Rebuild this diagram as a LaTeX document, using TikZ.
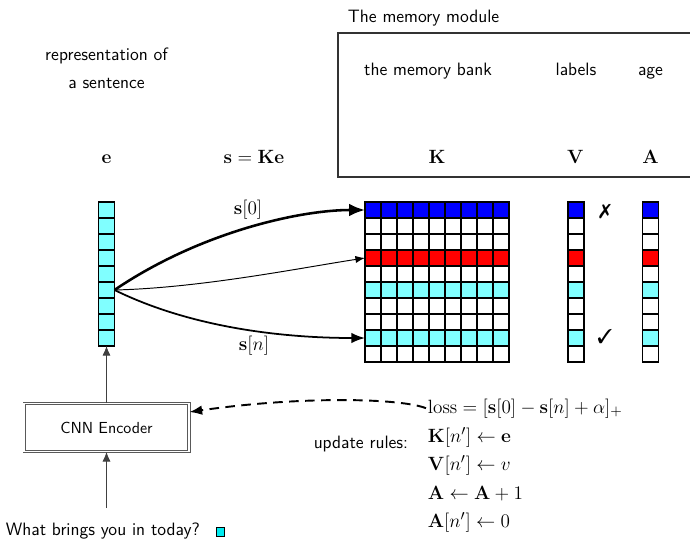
\documentclass[tikz,border=0pt]{standalone}
\usepackage{amsmath}
\usepackage{pifont}
\usetikzlibrary{arrows.meta,calc}
\definecolor{rowcyan}{RGB}{128,255,255}
\definecolor{tokcyan}{RGB}{0,235,240}
\definecolor{rowblue}{RGB}{0,0,255}
\definecolor{rowred}{RGB}{255,0,0}
\newcommand\txtfont{\fontsize{11.2}{13}\selectfont\sffamily}
\newcommand\mathfont{\fontsize{12.4}{14}\selectfont}
\begin{document}
\begin{tikzpicture}[x=0.625pt,y=-0.625pt,
  cell/.style={draw, line width=0.7pt, minimum size=10pt, inner sep=0pt, outer sep=0pt},
  lbl/.style={font=\txtfont, inner sep=1pt},
  mlbl/.style={font=\mathfont, inner sep=1pt},
  feed/.style={-{Latex[length=6pt,width=5pt]}, line width=0.5pt, black!75},
  encbox/.style={draw=black!65, double=white, double distance=0.9pt, line width=0.55pt,
    minimum width=103pt, minimum height=30pt, font=\fontsize{10}{12}\selectfont\sffamily},
  update/.style={font=\mathfont, anchor=base west, inner sep=1pt}]
\useasboundingbox (0,0) rectangle (690,540);

% memory module frame (open on the right)
\node[lbl, anchor=base west] (modtitle) at (346,22) {The memory module};
\draw[line width=0.7pt, black!80] (690,33) -- (338,33) -- (338,177) -- (690,177);

% column captions
\node[lbl] (reptxt1) at (106.5,56) {representation of};
\node[lbl, anchor=base] (reptxt2) at (106.5,88) {a sentence};
\node[lbl, anchor=base] (banktxt) at (428,75) {the memory bank};
\node[lbl, anchor=base] (labtxt) at (576,75) {labels};
\node[lbl, anchor=base] (agetxt) at (650.5,75) {age};
\node[mlbl, anchor=base] (esym) at (106.5,163) {$\mathbf{e}$};
\node[mlbl, anchor=base] (ssym) at (254,163) {$\mathbf{s}=\mathbf{K}\mathbf{e}$};
\node[mlbl, anchor=base] (Ksym) at (437,163) {$\mathbf{K}$};
\node[mlbl, anchor=base] (Vsym) at (575.5,163) {$\mathbf{V}$};
\node[mlbl, anchor=base] (Asym) at (650.5,163) {$\mathbf{A}$};

% sentence vector e
\foreach \i in {0,...,8}
  \node[cell, fill=rowcyan] (e\i) at (106.5,{210+16*\i}) {};

% memory bank K, labels V and ages A
\foreach \r/\c in {0/rowblue,1/white,2/white,3/rowred,4/white,5/rowcyan,6/white,7/white,8/rowcyan,9/white} {
  \foreach \j in {0,...,8}
    \node[cell, fill=\c] (K\r-\j) at ({373+16*\j},{210+16*\r}) {};
  \node[cell, fill=\c] (V\r) at (576,{210+16*\r}) {};
  \node[cell, fill=\c] (A\r) at (650.5,{210+16*\r}) {};
}

\node[inner sep=0pt, font=\fontsize{12.5}{13}\selectfont] (wrong) at (605,212) {\ding{55}};
\node[inner sep=0pt, font=\fontsize{12.5}{13}\selectfont] (right) at (605,337) {\ding{51}};

% similarity pointers
\draw[-{Latex[length=10pt,width=8pt]}, line width=1.6pt]
  (e5.east) .. controls (200,232) and (300,210) .. (K0-0.west);
\draw[-{Latex[length=6pt,width=4.5pt]}, line width=0.6pt]
  (e5.east) .. controls (200,288) and (300,268) .. (K3-0.west);
\draw[-{Latex[length=8.5pt,width=6.5pt]}, line width=1.1pt]
  (e5.east) .. controls (200,332) and (300,338) .. (K8-0.west);
\node[mlbl] (s0) at (248,210) {$\mathbf{s}[0]$};
\node[mlbl] (sn) at (254,346) {$\mathbf{s}[n]$};

% encoder
\node[encbox] (enc) at (106.5,427.5) {CNN Encoder};
\draw[feed] (enc.north) -- (e8.south);
\coordinate (qtop) at (106.5,508);
\draw[feed] (qtop) -- (enc.south);
\node[lbl, anchor=base west] (question) at (4,535) {What brings you in today?};
\node[draw, line width=0.6pt, fill=tokcyan, minimum size=5.2pt, inner sep=0pt] (tok) at (220.5,532) {};

% loss and update rules
\node[update] (loss) at (426,413) {$\mathrm{loss}=[\mathbf{s}[0]-\mathbf{s}[n]+\alpha]_{+}$};
\node[update] (upK) at (426,442) {$\mathbf{K}[n']\leftarrow\mathbf{e}$};
\node[update] (upV) at (426,470.5) {$\mathbf{V}[n']\leftarrow v$};
\node[update] (upA) at (426,499) {$\mathbf{A}\leftarrow\mathbf{A}+1$};
\node[update] (upA0) at (426,527.5) {$\mathbf{A}[n']\leftarrow 0$};
\node[lbl, anchor=base east] (updtxt) at (410,448) {update rules:};

\draw[-{Latex[length=8pt,width=6pt]}, line width=1.2pt, dash pattern=on 6pt off 4pt]
  (loss.west) .. controls (400,398) and (300,396) .. ([yshift=-5.6pt]enc.north east);
\end{tikzpicture}
\end{document}
